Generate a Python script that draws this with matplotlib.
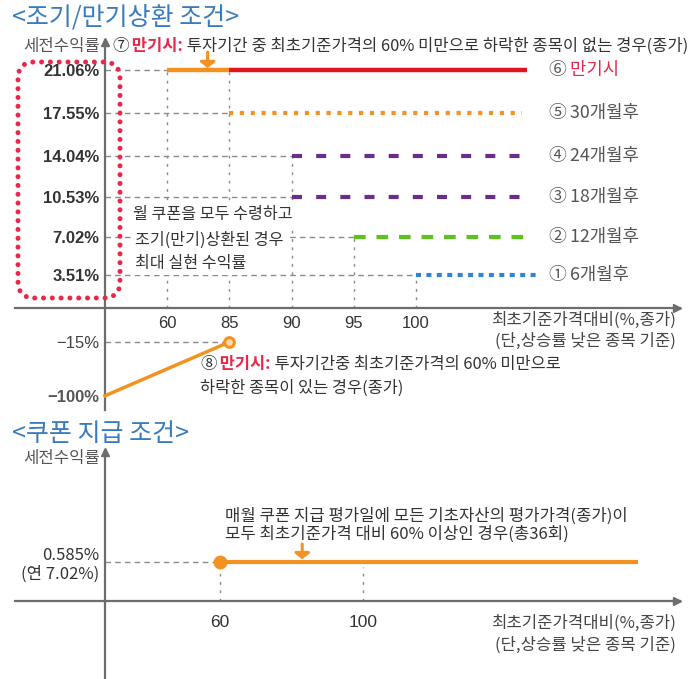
import numpy as np
import matplotlib
matplotlib.use('Agg')
import matplotlib.pyplot as plt
from matplotlib.patches import FancyBboxPatch

plt.rcParams['font.family'] = ['Noto Sans CJK KR', 'DejaVu Sans']

# ---------------- data ----------------
x_ticks = [60, 85, 90, 95, 100]
levels = [21.06, 17.55, 14.04, 10.53, 7.02, 3.51]
level_labels = ['21.06%', '17.55%', '14.04%', '10.53%', '7.02%', '3.51%']
level_start = [85, 85, 90, 90, 95, 100]
right_num = ['⑥', '⑤', '④', '③', '②', '①']
right_text = ['만기시', '30개월후', '24개월후', '18개월후', '12개월후', '6개월후']
maturity_barrier = 60          # orange solid part of maturity line starts here
loss_x = [0, 85]
loss_y = [-100, -15]
loss_labels = ['\u2212100%', '\u221215%']

coupon_rate = 0.585
coupon_annual = 7.02
coupon_barrier = 60
coupon_ticks = [60, 100]

# ---------------- style ----------------
W, H = 695, 679
ORANGE = '#f39221'
RED = '#e5131d'
TXTRED = '#e8274a'
PURPLE = '#6b2d8c'
GREEN = '#5cc21f'
BLUE = '#3183d6'
GRAY = '#8a8a8a'
AX = '#6d6d6d'
DARK = '#333333'
MID = '#555555'
TITLE = '#3a7bbd'
NUM = ['Liberation Sans', 'DejaVu Sans']
FS = 12

fig = plt.figure(figsize=(W / 100, H / 100), dpi=100)
renderer = fig.canvas.get_renderer()


def fx(px):
    return px / W


def fy(py):
    return 1 - py / H


def ftext(px, py, s, **kw):
    kw.setdefault('va', 'center')
    return fig.text(fx(px), fy(py), s, **kw)


def rich(xd, yd, parts, size):
    """xd, yd in display pixels (origin bottom-left)."""
    x = xd
    for s, color, weight in parts:
        t = fig.text(x / W, yd / H, s, color=color, fontsize=size,
                     fontweight=weight, va='center', ha='left')
        x += t.get_window_extent(renderer).width


# ---------------- top panel ----------------
def fwd(y):
    y = np.asarray(y, float)
    return np.where(y >= 0, np.abs(y) ** 1.1, -1.054 * np.sqrt(np.abs(y)))


def inv(u):
    u = np.asarray(u, float)
    return np.where(u >= 0, np.abs(u) ** (1 / 1.1), -(np.abs(u) / 1.054) ** 2)


ax = fig.add_axes([fx(15), fy(410), (680 - 15) / W, (410 - 40) / H])
ax.set_yscale('function', functions=(fwd, inv))
ax.set_xlim(-1.447, 9.244)
ax.set_ylim(-135, 23.47)
ax.patch.set_alpha(0)


def xp(v):
    return 0 if v == 0 else x_ticks.index(v) + 1


X_END = 6.78
X_LABEL = 7.12

for sp in ['top', 'right']:
    ax.spines[sp].set_visible(False)
ax.spines['left'].set_position(('data', 0))
ax.spines['bottom'].set_position(('data', 0))
for sp in ['left', 'bottom']:
    ax.spines[sp].set_color(AX)
    ax.spines[sp].set_linewidth(1.6)
ax.plot(0, 0.995, '^', color=AX, ms=6, transform=ax.get_xaxis_transform(), clip_on=False)
ax.plot(0.995, 0, '>', color=AX, ms=6, transform=ax.get_yaxis_transform(), clip_on=False)

ax.set_xticks([xp(v) for v in x_ticks], [str(v) for v in x_ticks])
ax.set_yticks(levels + loss_y, level_labels + loss_labels)
ax.tick_params(length=0)
ax.tick_params(axis='x', pad=6, labelsize=12, labelcolor=DARK)
ax.tick_params(axis='y', pad=4, labelsize=12, labelcolor=DARK)
for lab in ax.get_xticklabels():
    lab.set_fontfamily(NUM)
for i, lab in enumerate(ax.get_yticklabels()):
    lab.set_fontfamily(NUM)
    if i < len(levels):
        lab.set_fontweight('bold')
    else:
        lab.set_color('#444444')
        if loss_y[i - len(levels)] == -100:
            lab.set_fontweight('bold')
            lab.set_color('#555555')

# guides
hstyle = dict(color=GRAY, lw=1.0, ls=(0, (4, 3)), zorder=1)
vstyle = dict(color=GRAY, lw=1.0, ls=(0, (2, 4)), zorder=1)
for i, (lv, st) in enumerate(zip(levels, level_start)):
    ax.plot([0, xp(maturity_barrier if i == 0 else st)], [lv, lv], **hstyle)
vert_top = {}
for lv, st in zip(levels, level_start):
    vert_top[st] = max(vert_top.get(st, 0), lv)
vert_top[maturity_barrier] = max(vert_top.get(maturity_barrier, 0), levels[0])
for st, top in vert_top.items():
    ax.plot([xp(st), xp(st)], [0, top], **vstyle)
ax.plot([0, xp(loss_x[1])], [loss_y[1], loss_y[1]], **hstyle)

# level lines
ax.plot([xp(maturity_barrier), xp(level_start[0])], [levels[0]] * 2, color=ORANGE, lw=3.2,
        solid_capstyle='butt', zorder=3)
line_styles = [
    dict(color=RED, lw=3.2, ls='-', solid_capstyle='butt'),
    dict(color=ORANGE, lw=3, ls=(0, (1.0, 1.6))),
    dict(color=PURPLE, lw=3, ls=(0, (2.4, 3.4))),
    dict(color=PURPLE, lw=3, ls=(0, (2.4, 3.4))),
    dict(color=GREEN, lw=3, ls=(0, (2.8, 2.6))),
    dict(color=BLUE, lw=3, ls=(0, (1.2, 1.3))),
]
ends = [X_END, X_END - 0.08, X_END, X_END, X_END, X_END + 0.2]
for lv, st, sty, e in zip(levels, level_start, line_styles, ends):
    ax.plot([xp(st), e], [lv, lv], zorder=3, **sty)

# loss line
ax.plot([xp(v) for v in loss_x], loss_y, color=ORANGE, lw=2.5, zorder=3)
ax.plot(xp(loss_x[1]), loss_y[1], 'o', ms=7, mfc='#ffd8ae', mec=ORANGE, mew=2.2, zorder=4)

# right labels
for lv, n, t in zip(levels, right_num, right_text):
    xd, yd = ax.transData.transform((X_LABEL, lv))
    col = TXTRED if t == '만기시' else MID
    rich(xd, yd, [(n, MID, 'normal'), (' ' + t, col, 'normal')], 12.8)

# arrow for (7)
ax.annotate('', xy=(1.65, levels[0]), xytext=(0, 13), textcoords='offset points',
            arrowprops=dict(arrowstyle='-|>,head_width=0.45,head_length=0.35',
                            color=ORANGE, lw=2.2, shrinkA=0, shrinkB=1.5))

# red dotted rounded box
box = FancyBboxPatch((fx(18), fy(298)), (120 - 18) / W, (298 - 62) / H,
                     boxstyle='round,pad=0,rounding_size=0.024', transform=fig.transFigure,
                     fc='none', ec=TXTRED, lw=3.6, ls=(0, (0.01, 1.75)))
box.set_capstyle('round')
fig.add_artist(box)

# texts top
WB = dict(fc='white', ec='none', pad=1.5)
ftext(12, 18, '<조기/만기상환 조건>', fontsize=18, color=TITLE, fontweight='medium')
ftext(100, 46, '세전수익률', fontsize=12, color=MID, ha='right')
rich(112, fy(46) * H,
     [('⑦', DARK, 'normal'), (' 만기시:', TXTRED, 'bold'),
      (' 투자기간 중 최초기준가격의 60% 미만으로 하락한 종목이 없는 경우(종가)', DARK, 'normal')], 11.9)
ftext(133, 215, '월 쿠폰을 모두 수령하고', fontsize=11.6, color=DARK, bbox=WB)
ftext(135, 240, '조기(만기)상환된 경우', fontsize=11.6, color=DARK, bbox=WB)
ftext(135, 264, '최대 실현 수익률', fontsize=11.6, color=DARK, bbox=WB)
ftext(676, 320, '최초기준가격대비(%,종가)', fontsize=12, color='#444444', ha='right')
ftext(676, 341, '(단,상승률 낮은 종목 기준)', fontsize=12, color='#444444', ha='right')
rich(200, fy(364) * H,
     [('⑧', DARK, 'normal'), (' 만기시:', TXTRED, 'bold'),
      (' 투자기간중 최초기준가격의 60% 미만으로', DARK, 'normal')], 11.8)
ftext(200, 388, '하락한 종목이 있는 경우(종가)', fontsize=11.8, color=DARK)

# ---------------- bottom panel ----------------
ax2 = fig.add_axes([fx(15), fy(679), (680 - 15) / W, (679 - 450) / H])
ax2.patch.set_alpha(0)
ax2.set_xlim(2.66, 188.67)
ax2.set_ylim(-1.17, 2.265)
origin_frac = (105 - 15) / (680 - 15)
x0, x1 = ax2.get_xlim()
origin_x = x0 + origin_frac * (x1 - x0)
for sp in ['top', 'right']:
    ax2.spines[sp].set_visible(False)
ax2.spines['left'].set_position(('axes', origin_frac))
ax2.spines['bottom'].set_position(('data', 0))
for sp in ['left', 'bottom']:
    ax2.spines[sp].set_color(AX)
    ax2.spines[sp].set_linewidth(1.6)
ax2.plot(origin_x, 0.99, '^', color=AX, ms=6, transform=ax2.get_xaxis_transform(), clip_on=False)
ax2.plot(0.995, 0, '>', color=AX, ms=6, transform=ax2.get_yaxis_transform(), clip_on=False)

ax2.set_xticks(coupon_ticks, [str(v) for v in coupon_ticks])
ax2.set_yticks([coupon_rate], [f'{coupon_rate}%\n(연 {coupon_annual}%)'])
ax2.tick_params(length=0)
ax2.tick_params(axis='x', pad=10, labelsize=12.5, labelcolor=DARK)
ax2.tick_params(axis='y', pad=4, labelsize=12, labelcolor=DARK)
for lab in ax2.get_xticklabels():
    lab.set_fontfamily(NUM)
for lab in ax2.get_yticklabels():
    lab.set_linespacing(1.1)

ax2.plot([origin_x, coupon_barrier], [coupon_rate] * 2, **hstyle)
ax2.plot([coupon_barrier] * 2, [0, coupon_rate], **vstyle)
ax2.plot([coupon_ticks[1]] * 2, [0, coupon_rate * 0.87], **vstyle)
ax2.plot([coupon_barrier, 176.9], [coupon_rate] * 2, color=ORANGE, lw=3, solid_capstyle='butt', zorder=3)
ax2.plot(coupon_barrier, coupon_rate, 'o', ms=9, color=ORANGE, zorder=4)
ax2.annotate('', xy=(83, coupon_rate), xytext=(0, 13), textcoords='offset points',
             arrowprops=dict(arrowstyle='-|>,head_width=0.45,head_length=0.35',
                             color=ORANGE, lw=2.2, shrinkA=0, shrinkB=2))

ftext(12, 434, '<쿠폰 지급 조건>', fontsize=18, color=TITLE, fontweight='medium')
ftext(100, 458, '세전수익률', fontsize=12, color=MID, ha='right')
ftext(676, 623, '최초기준가격대비(%,종가)', fontsize=12, color='#444444', ha='right')
ftext(676, 645, '(단,상승률 낮은 종목 기준)', fontsize=12, color='#444444', ha='right')
ftext(225, 516, '매월 쿠폰 지급 평가일에 모든 기초자산의 평가가격(종가)이', fontsize=12, color=DARK)
ftext(225, 534, '모두 최초기준가격 대비 60% 이상인 경우(총36회)', fontsize=12, color=DARK)

fig.savefig('out.png', dpi=100)
